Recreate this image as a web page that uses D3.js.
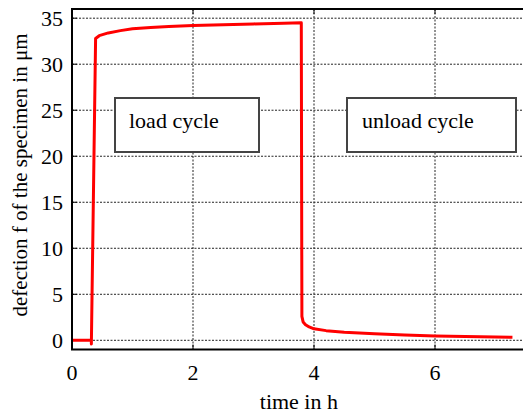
<!DOCTYPE html>
<html><head><meta charset="utf-8">
<script src="https://cdn.jsdelivr.net/npm/d3@7"></script>
<style>body{margin:0;background:#fff}svg{display:block}svg text{font-family:"Liberation Serif",serif !important}</style>
</head><body>
<svg id="c" width="523" height="414"></svg>
<script>
const timeH = [0, 0.32, 0.32, 0.39, 0.45, 0.6, 0.8, 1.0, 1.3, 1.6, 2.0, 2.5, 3.0, 3.5, 3.79, 3.80, 3.82, 3.86, 3.92, 4.0, 4.2, 4.5, 5.0, 5.5, 6.0, 6.5, 7.0, 7.28];
const deflection = [0, 0, -0.4, 32.8, 33.1, 33.4, 33.65, 33.85, 34.0, 34.1, 34.2, 34.3, 34.38, 34.45, 34.5, 2.6, 2.0, 1.7, 1.45, 1.25, 1.05, 0.88, 0.7, 0.58, 0.47, 0.4, 0.35, 0.32];
const xTicks = [0, 2, 4, 6];
const yTicks = [0, 5, 10, 15, 20, 25, 30, 35];
const boxLabels = ["load cycle", "unload cycle"];
const xLabel = "time in h";
const yLabel = "defection f of the specimen in \u03bcm";

const svg = d3.select("#c");
const x = d3.scaleLinear().domain([0, 7.5]).range([72, 525.75]);
const y = d3.scaleLinear().domain([-1, 36]).range([349.5, 9]);

const g = svg.append("g");
g.selectAll(".gx").data(xTicks.slice(1)).join("line")
  .attr("x1", d => x(d)).attr("x2", d => x(d)).attr("y1", y(36)).attr("y2", y(-1))
  .attr("stroke", "#222").attr("stroke-width", 1).attr("stroke-dasharray", "2,1.5");
g.selectAll(".gy").data(yTicks).join("line")
  .attr("x1", x(0)).attr("x2", x(7.5)).attr("y1", d => y(d)).attr("y2", d => y(d))
  .attr("stroke", "#222").attr("stroke-width", 1).attr("stroke-dasharray", "2,1.5");

const tk = 5;
g.selectAll(".tb").data(xTicks).join("line")
  .attr("x1", d => x(d)).attr("x2", d => x(d)).attr("y1", y(-1)).attr("y2", y(-1) - tk)
  .attr("stroke", "#000");
g.selectAll(".tt").data(xTicks).join("line")
  .attr("x1", d => x(d)).attr("x2", d => x(d)).attr("y1", y(36)).attr("y2", y(36) + tk)
  .attr("stroke", "#000");
g.selectAll(".tl").data(yTicks).join("line")
  .attr("x1", x(0)).attr("x2", x(0) + tk).attr("y1", d => y(d)).attr("y2", d => y(d))
  .attr("stroke", "#000");

const line = d3.line().x((d, i) => x(timeH[i])).y(d => y(d));
svg.append("path").datum(deflection).attr("d", line)
  .attr("fill", "none").attr("stroke", "#ff0000").attr("stroke-width", 3).attr("stroke-linejoin", "round");

svg.append("line").attr("x1", x(0)).attr("x2", x(0)).attr("y1", y(36)).attr("y2", y(-1)).attr("stroke", "#000").attr("stroke-width", 2);
svg.append("line").attr("x1", x(0) - 1).attr("x2", x(7.5)).attr("y1", y(-1)).attr("y2", y(-1)).attr("stroke", "#000").attr("stroke-width", 2);
svg.append("line").attr("x1", x(0) - 1).attr("x2", x(7.5)).attr("y1", y(36)).attr("y2", y(36)).attr("stroke", "#000").attr("stroke-width", 2);

const T = svg.append("g");
T.selectAll(".xl").data(xTicks).join("text")
  .attr("x", d => x(d)).attr("y", 380).attr("text-anchor", "middle")
  .attr("font-size", 22).text(d => d);
T.selectAll(".yl").data(yTicks).join("text")
  .attr("x", 63).attr("y", d => y(d) + 7.5).attr("text-anchor", "end")
  .attr("font-size", 22).text(d => d);
T.append("text").attr("x", x(3.75)).attr("y", 409).attr("text-anchor", "middle")
  .attr("font-size", 22).text(xLabel);
T.append("text").attr("transform", "translate(27,175) rotate(-90)").attr("text-anchor", "middle")
  .attr("font-size", 21).text(yLabel);

const boxes = [{x0: 115, x1: 259, tx: 129}, {x0: 347, x1: 516, tx: 362}];
boxes.forEach((b, i) => {
  svg.append("rect").attr("x", b.x0).attr("y", 98).attr("width", b.x1 - b.x0).attr("height", 54)
    .attr("fill", "#fff").attr("stroke", "#444").attr("stroke-width", 2);
  svg.append("text").attr("x", b.tx).attr("y", 128).attr("font-size", 22).text(boxLabels[i]);
});
</script>
</body></html>
